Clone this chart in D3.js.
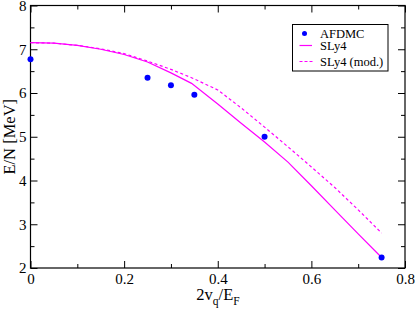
<!DOCTYPE html>
<head>
	<script src="https://d3js.org/d3.v7.min.js"></script>
	<style>
		body { margin: 0; background: #fff; }
		text { font-family: "Liberation Serif", "Times New Roman", serif; }
	</style>
</head>
<body>
	<script type="text/javascript">

		// AFDMC points
		var afdmcX = [0, 0.25, 0.3, 0.35, 0.5, 0.75];
		var afdmcY = [6.77, 6.35, 6.18, 5.96, 5.0, 2.24];

		// SLy4 curves
		var curveX = [0, 0.05, 0.1, 0.15, 0.2, 0.25, 0.3, 0.344, 0.4, 0.45, 0.5, 0.55, 0.6, 0.65, 0.7, 0.75];
		var sly4 = [7.15, 7.14, 7.09, 7.00, 6.88, 6.71, 6.46, 6.22, 5.75, 5.31, 4.88, 4.42, 3.88, 3.33, 2.78, 2.24];
		var sly4mod = [7.15, 7.14, 7.09, 7.01, 6.90, 6.73, 6.54, 6.35, 6.07, 5.66, 5.22, 4.77, 4.31, 3.84, 3.33, 2.80];

		var xTicks = [0, 0.2, 0.4, 0.6, 0.8];
		var xMinor = [0.1, 0.3, 0.5, 0.7];
		var yTicks = [2, 3, 4, 5, 6, 7, 8];
		var yMinor = [2.5, 3.5, 4.5, 5.5, 6.5, 7.5];
		var legendLabels = ["AFDMC", "SLy4", "SLy4 (mod.)"];

		var w = 415, h = 309;
		var pLeft = 30.5, pRight = 405, pTop = 5.5, pBottom = 268;

		var svg = d3.select("body")
				.append("svg")
				.attr("width", w)
				.attr("height", h);

		var xScale = d3.scaleLinear().domain([0, 0.8]).range([pLeft, pRight]);
		var yScale = d3.scaleLinear().domain([2, 8]).range([pBottom, pTop]);

		function axisStyle(g) {
			g.selectAll("path").remove();
			g.selectAll("line").attr("stroke", "#000");
			g.selectAll("text").attr("font-size", 15).attr("fill", "#000")
				.attr("font-family", "'Liberation Serif', serif");
		}

		// major + minor ticks, pointing inward on all four sides
		svg.append("g").attr("transform", "translate(0," + pBottom + ")")
			.call(d3.axisBottom(xScale).tickValues(xTicks).tickSize(-7).tickPadding(5)
				.tickFormat(function(d){ return d === 0 ? "0" : d3.format(".1f")(d); }))
			.call(axisStyle);
		svg.append("g").attr("transform", "translate(0," + pBottom + ")")
			.call(d3.axisBottom(xScale).tickValues(xMinor).tickSize(-4).tickFormat(""))
			.call(axisStyle);
		svg.append("g").attr("transform", "translate(0," + pTop + ")")
			.call(d3.axisTop(xScale).tickValues(xTicks).tickSize(-7).tickFormat(""))
			.call(axisStyle);
		svg.append("g").attr("transform", "translate(0," + pTop + ")")
			.call(d3.axisTop(xScale).tickValues(xMinor).tickSize(-4).tickFormat(""))
			.call(axisStyle);

		svg.append("g").attr("transform", "translate(" + pLeft + ",0)")
			.call(d3.axisLeft(yScale).tickValues(yTicks).tickSize(-7).tickPadding(4)
				.tickFormat(d3.format("d")))
			.call(axisStyle);
		svg.append("g").attr("transform", "translate(" + pLeft + ",0)")
			.call(d3.axisLeft(yScale).tickValues(yMinor).tickSize(-4).tickFormat(""))
			.call(axisStyle);
		svg.append("g").attr("transform", "translate(" + pRight + ",0)")
			.call(d3.axisRight(yScale).tickValues(yTicks).tickSize(-7).tickFormat(""))
			.call(axisStyle);
		svg.append("g").attr("transform", "translate(" + pRight + ",0)")
			.call(d3.axisRight(yScale).tickValues(yMinor).tickSize(-4).tickFormat(""))
			.call(axisStyle);

		// frame
		svg.append("rect")
			.attr("x", pLeft).attr("y", pTop)
			.attr("width", pRight - pLeft).attr("height", pBottom - pTop)
			.attr("fill", "none").attr("stroke", "#000").attr("stroke-width", 1.2);

		var line = d3.line()
			.x(function(d){ return xScale(d[0]); })
			.y(function(d){ return yScale(d[1]); });

		svg.append("path")
			.attr("d", line(d3.zip(curveX, sly4)))
			.attr("fill", "none").attr("stroke", "#ff00ff").attr("stroke-width", 1.2);

		svg.append("path")
			.attr("d", line(d3.zip(curveX, sly4mod)))
			.attr("fill", "none").attr("stroke", "#ff00ff").attr("stroke-width", 1.2)
			.attr("stroke-dasharray", "3,2.5");

		svg.selectAll("circle.pt")
			.data(d3.zip(afdmcX, afdmcY))
			.enter()
			.append("circle")
			.attr("class", "pt")
			.attr("cx", function(d){ return xScale(d[0]); })
			.attr("cy", function(d){ return yScale(d[1]); })
			.attr("r", 3)
			.attr("fill", "#0000ff");

		// axis titles
		var xt = svg.append("text")
			.attr("x", 218).attr("y", 300)
			.attr("text-anchor", "middle")
			.attr("font-size", 16.5);
		xt.append("tspan").text("2v");
		xt.append("tspan").attr("font-size", 11.5).attr("dy", 4.5).text("q");
		xt.append("tspan").attr("dy", -4.5).text("/E");
		xt.append("tspan").attr("font-size", 11.5).attr("dy", 4.5).text("F");

		svg.append("text")
			.attr("transform", "translate(15," + ((pTop + pBottom) / 2) + ") rotate(-90)")
			.attr("text-anchor", "middle")
			.attr("font-size", 16.5)
			.text("E/N [MeV]");

		// legend
		var lg = svg.append("g");
		lg.append("rect")
			.attr("x", 292.5).attr("y", 24.5)
			.attr("width", 95.5).attr("height", 46.5)
			.attr("fill", "#fff").attr("stroke", "#000").attr("stroke-width", 1);

		var rowY = [33.5, 45.5, 61.5];
		lg.append("circle").attr("cx", 304.5).attr("cy", rowY[0]).attr("r", 2.5).attr("fill", "#0000ff");
		lg.append("line").attr("x1", 299.5).attr("x2", 312).attr("y1", rowY[1]).attr("y2", rowY[1])
			.attr("stroke", "#ff00ff").attr("stroke-width", 1.2);
		lg.append("line").attr("x1", 299.5).attr("x2", 313).attr("y1", rowY[2]).attr("y2", rowY[2])
			.attr("stroke", "#ff00ff").attr("stroke-width", 1.2).attr("stroke-dasharray", "3,2");

		lg.selectAll("text.lg")
			.data(legendLabels)
			.enter()
			.append("text")
			.attr("class", "lg")
			.attr("x", 320)
			.attr("y", function(d, i){ return [37.5, 49.5, 65.5][i]; })
			.attr("font-size", 12.5)
			.text(function(d){ return d; });

	</script>
</body>
